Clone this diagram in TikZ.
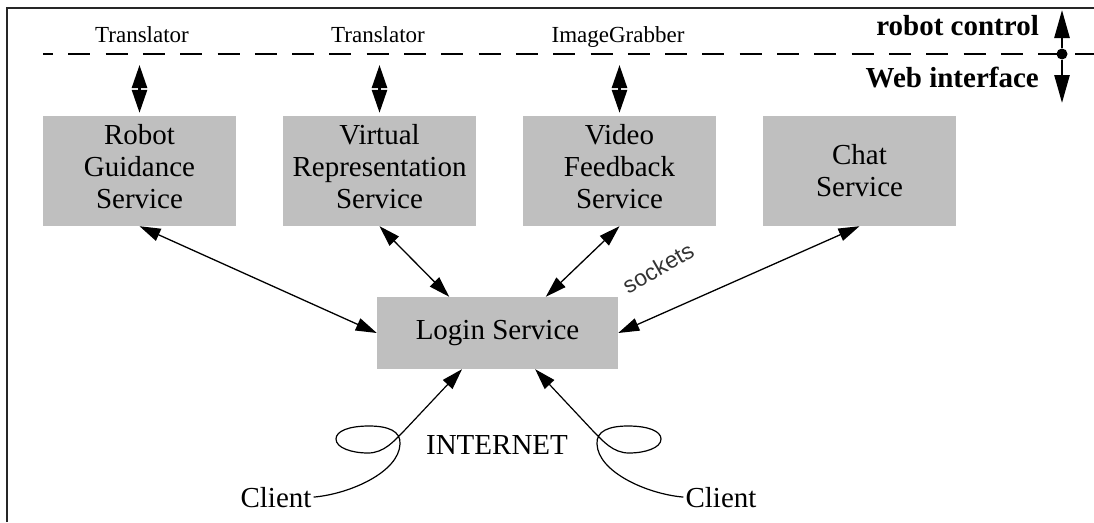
\documentclass[tikz,border=0pt]{standalone}
\usepackage{fontspec}
\setmainfont{Liberation Serif}
\newfontfamily\labelsans{Liberation Sans}
\usetikzlibrary{arrows.meta,calc}
\definecolor{boxgray}{RGB}{191,191,191}
% extra depth under the last line of a box caption, lifting the text block
\newcommand\liftpad{\rule[-10pt]{0pt}{0pt}}
\begin{document}
\begin{tikzpicture}[x=1pt,y=-1pt,
  service/.style={fill=boxgray, minimum width=193pt, minimum height=110pt,
    inner sep=0pt, align=center, font=\fontsize{29}{32}\selectfont},
  loginbox/.style={fill=boxgray, minimum width=241pt, minimum height=72pt,
    inner sep=0pt, font=\fontsize{29}{32}\selectfont},
  tierlabel/.style={font=\fontsize{23}{26}\selectfont, anchor=base, inner sep=0pt},
  sidelabel/.style={font=\fontsize{29}{32}\selectfont\bfseries, anchor=base east, inner sep=0pt},
  plain/.style={font=\fontsize{29}{32}\selectfont, inner sep=2pt},
  link/.style={line width=1.3pt,
    {Triangle[length=21pt,width=13pt]}-{Triangle[length=21pt,width=13pt]}},
  tier/.style={line width=2.6pt,
    {Triangle[length=23pt,width=15pt]}-{Triangle[length=23pt,width=15pt]}},
  bigtip/.style={line width=2.6pt, -{Triangle[length=28pt,width=15pt]}},
  wire/.style={line width=1.2pt, -{Triangle[length=21pt,width=13pt]}}]

\useasboundingbox (0,0) rectangle (1094,522);

% frame and the layer boundary
\draw[line width=1.8pt, black!85] (7,522) -- (7,8) -- (1094,8);
\draw[line width=2pt, dash pattern=on 22pt off 15.3pt, dash phase=12pt] (43,54) -- (1094,54);

% robot-control side components
\node[tierlabel] (tr1) at (142,42) {Translator};
\node[tierlabel] (tr2) at (378,42) {Translator};
\node[tierlabel] (grab) at (618,42) {ImageGrabber};

% layer labels with the boundary marker
\node[sidelabel] (rc) at (1039,35) {robot control};
\node[sidelabel] (wi) at (1039,87) {Web interface};
\node[circle, fill, inner sep=0pt, minimum size=11pt] (hub) at (1062,54) {};
\coordinate (up) at (1062,10);
\coordinate (down) at (1062,103);
\draw[bigtip] (hub) -- (up);
\draw[bigtip] (hub) -- (down);

% services
\node[service] (robot) at (139.5,171) {Robot\\Guidance\\Service\liftpad};
\node[service] (virtual) at (379.5,171) {Virtual\\Representation\\Service\liftpad};
\node[service] (video) at (619.5,171) {Video\\Feedback\\Service\liftpad};
\node[service] (chat) at (859.5,171) {Chat\\Service};
\node[loginbox] (login) at (497.5,333) {Login Service};

% links across the boundary
\coordinate (c1) at (139.5,65);
\coordinate (c2) at (379.5,65);
\coordinate (c3) at (619.5,65);
\draw[tier] (c1) -- ([yshift=3pt]robot.north);
\draw[tier] (c2) -- ([yshift=3pt]virtual.north);
\draw[tier] (c3) -- ([yshift=3pt]video.north);

% socket links to the login service
\draw[link] (robot.south) -- (login.west);
\draw[link] (virtual.south) -- ($(login.north west)!0.3!(login.north east)$);
\draw[link] (video.south) -- ($(login.north west)!0.7!(login.north east)$);
\draw[link] (chat.south) -- (login.east);
\node[rotate=30, inner sep=1pt, font=\labelsans\fontsize{23}{25}\selectfont, text=black!80] (sock) at (658,268) {sockets};

% clients over the internet
\node[plain] (net) at (497,445) {INTERNET};
\node[plain, anchor=base] (clientL) at (276,507) {Client};
\node[plain, anchor=base] (clientR) at (721,507) {Client};

\draw[wire] (clientL.east) .. controls (350,494) and (399,472) .. (400,444)
  .. controls (401,431) and (388,426) .. (369,426)
  .. controls (349,426) and (336,431) .. (336,439)
  .. controls (336,448) and (352,453) .. (368,453)
  .. controls (384,453) and (394,441) .. (403,432)
  -- ($(login.south west)!0.353!(login.south east)$);
\draw[wire] (clientR.west) .. controls (647,494) and (598,472) .. (597,444)
  .. controls (596,431) and (609,426) .. (628,426)
  .. controls (648,426) and (661,431) .. (661,439)
  .. controls (661,448) and (645,453) .. (629,453)
  .. controls (613,453) and (603,441) .. (594,432)
  -- ($(login.south west)!0.656!(login.south east)$);
\end{tikzpicture}
\end{document}
